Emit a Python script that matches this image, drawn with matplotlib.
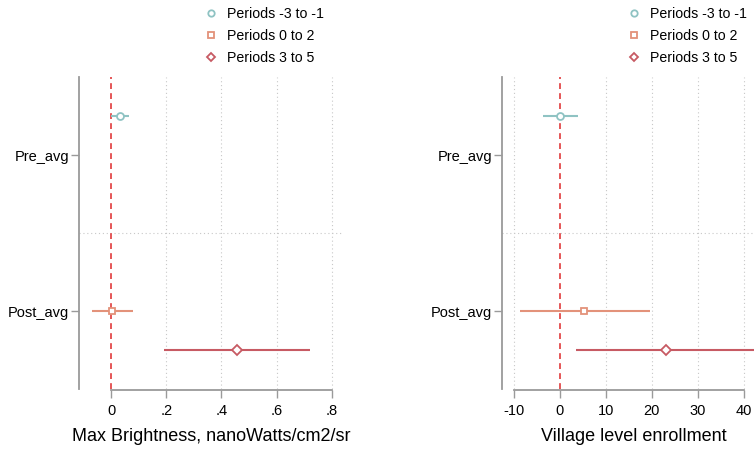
import matplotlib

matplotlib.use("Agg")
import matplotlib.pyplot as plt  # noqa: E402
from matplotlib.lines import Line2D  # noqa: E402

plt.rcParams["font.family"] = ["Liberation Sans", "DejaVu Sans"]

# Coeficientes por janela de períodos (estimativa, IC inferior, IC superior)
SERIES = ["Periods -3 to -1", "Periods 0 to 2", "Periods 3 to 5"]
ROWS = ["Pre_avg", "Post_avg", "Post_avg"]

bright_est = [0.033, 0.004, 0.455]
bright_lo = [0.000, -0.070, 0.190]
bright_hi = [0.066, 0.078, 0.720]

enroll_est = [0.0, 5.4, 23.0]
enroll_lo = [-3.7, -8.5, 3.5]
enroll_hi = [3.9, 19.6, 42.5]

bright_ticks = [0, 0.2, 0.4, 0.6, 0.8]
bright_ticklabels = ["0", ".2", ".4", ".6", ".8"]
enroll_ticks = [-10, 0, 10, 20, 30, 40]
enroll_ticklabels = ["-10", "0", "10", "20", "30", "40"]

COLORS = ["#8fc3c3", "#e3927a", "#c75a63"]
MARKERS = ["o", "s", "D"]
MSIZE = [5.0, 5.0, 4.6]
OFFSETS = [-0.25, 0.0, 0.25]
AXIS = "#9a9a9a"
GRID = "#c8c8c8"
REF = "#e0393b"


def draw_panel(ax, est, lo, hi, ticks, ticklabels, xlim, xlabel):
    row_pos = {"Pre_avg": 1, "Post_avg": 2}
    for i in range(len(est)):
        y = row_pos[ROWS[i]] + OFFSETS[i]
        ax.plot([lo[i], hi[i]], [y, y], color=COLORS[i], lw=1.5,
                solid_capstyle="butt", zorder=3)
        ax.plot(est[i], y, marker=MARKERS[i], ms=MSIZE[i], mfc="white",
                mec=COLORS[i], mew=1.3, zorder=4)
    ax.axvline(0, color=REF, lw=1.2, ls=(0, (3.5, 2.5)), zorder=2)
    for t in ticks:
        if t != 0:
            ax.axvline(t, color=GRID, lw=0.8, ls=(0, (1, 2.5)), zorder=1)
    ax.axhline(1.5, color=GRID, lw=0.8, ls=(0, (1, 2.5)), zorder=1)

    ax.set_xlim(*xlim)
    ax.set_ylim(2.5, 0.5)
    ax.set_xticks(ticks)
    ax.set_xticklabels(ticklabels)
    ax.set_yticks([1, 2])
    ax.set_yticklabels(["Pre_avg", "Post_avg"])
    for side in ("top", "right"):
        ax.spines[side].set_visible(False)
    ax.spines["left"].set_color(AXIS)
    ax.spines["left"].set_linewidth(1.3)
    ax.spines["bottom"].set_color(AXIS)
    ax.spines["bottom"].set_linewidth(1.3)
    ax.spines["bottom"].set_bounds(ticks[0], ticks[-1])
    ax.spines["bottom"].set_position(("outward", 1))
    ax.tick_params(axis="both", colors=AXIS, length=6, width=1.0,
                   labelcolor="black", labelsize=10.5)
    ax.tick_params(axis="x", pad=4)
    ax.tick_params(axis="y", pad=1)
    ax.set_xlabel(xlabel, fontsize=13, labelpad=7)

    handles = [Line2D([], [], ls="none", marker=MARKERS[i], ms=MSIZE[i] - 0.4,
                      mfc="white", mec=COLORS[i], mew=1.3)
               for i in range(len(SERIES))]
    return handles


fig = plt.figure(figsize=(7.54, 4.49), dpi=100)
W, H = 754, 449

ax1 = fig.add_axes([79 / W, (H - 389) / H, 264 / W, 312 / H])
h = draw_panel(ax1, bright_est, bright_lo, bright_hi, bright_ticks,
               bright_ticklabels, (-0.116, 0.84),
               "Max Brightness, nanoWatts/cm2/sr")
ax1.legend(h, SERIES, loc="upper left", bbox_to_anchor=(197 / W, 1.0),
           bbox_transform=fig.transFigure, frameon=False, fontsize=10.2,
           handlelength=1.0, handletextpad=0.6, labelspacing=0.55,
           borderaxespad=0.1)

ax2 = fig.add_axes([502 / W, (H - 389) / H, 264 / W, 312 / H])
h = draw_panel(ax2, enroll_est, enroll_lo, enroll_hi, enroll_ticks,
               enroll_ticklabels, (-12.5, 44.8), "Village level enrollment")
ax2.legend(h, SERIES, loc="upper left", bbox_to_anchor=(620 / W, 1.0),
           bbox_transform=fig.transFigure, frameon=False, fontsize=10.2,
           handlelength=1.0, handletextpad=0.6, labelspacing=0.55,
           borderaxespad=0.1)

fig.savefig("out.png", dpi=100, facecolor="white")
